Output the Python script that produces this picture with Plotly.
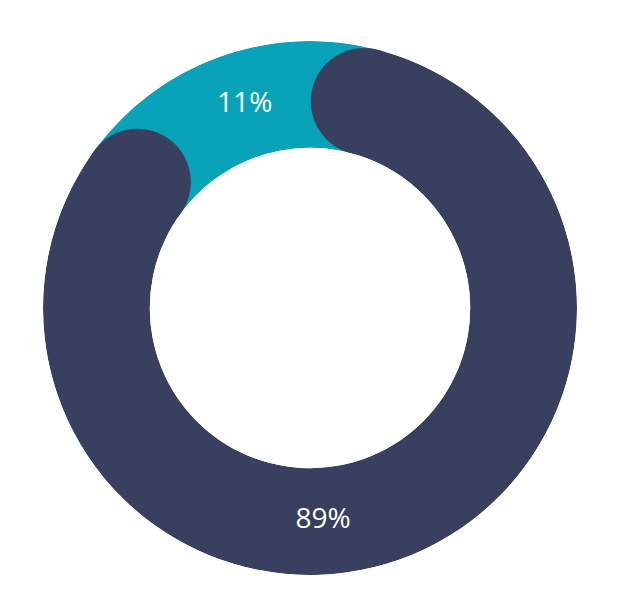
import math
import plotly.graph_objects as go

labels = ["Dark", "Teal"]
values = [89, 11]          # percent
label_text = ["89%", "11%"]
colors = ["#393F5F", "#08A3B9"]

HOLE = 0.6
R_PX = 267                 # outer radius in px
TEAL_MID = -19.6           # degrees clockwise from top
TEAL_LABEL_THETA = -17.8
DARK_LABEL_THETA = 176.5

# angular half-extent of the round caps at mid radius
half_thick = (1 - HOLE) / 2
mid_r = HOLE + half_thick
cap_deg = math.degrees(math.asin(half_thick / mid_r))

dark_deg = 360 * values[0] / 100
teal_deg = 360 * values[1] / 100

teal_width = teal_deg + 2 * cap_deg
dark_width = dark_deg - 2 * cap_deg
dark_mid = TEAL_MID + 180
dark_start = TEAL_MID + teal_width / 2
dark_end = TEAL_MID - teal_width / 2 + 360

fig = go.Figure()
fig.add_trace(go.Barpolar(r=[1], theta=[TEAL_MID], width=[teal_width], base=0,
                          marker=dict(color=colors[1], line=dict(width=0)),
                          hoverinfo="skip"))
fig.add_trace(go.Barpolar(r=[1], theta=[dark_mid], width=[dark_width], base=0,
                          marker=dict(color=colors[0], line=dict(width=0)),
                          hoverinfo="skip"))
fig.add_trace(go.Scatterpolar(r=[0.5, 0.5], theta=[dark_start, dark_end], mode="markers",
                              marker=dict(size=(1 - HOLE) * R_PX, color=colors[0],
                                          line=dict(width=0)),
                              hoverinfo="skip"))
fig.add_trace(go.Scatterpolar(r=[0.5, 0.5], theta=[TEAL_LABEL_THETA, DARK_LABEL_THETA],
                              mode="text",
                              text=[label_text[1], label_text[0]],
                              textfont=dict(color="white", size=28, family="Open Sans"),
                              hoverinfo="skip"))

fig.update_layout(
    width=630, height=612,
    margin=dict(l=35, r=61, t=33, b=45),
    showlegend=False,
    paper_bgcolor="white",
    polar=dict(
        hole=HOLE,
        bgcolor="white",
        domain=dict(x=[0, 1], y=[0, 1]),
        radialaxis=dict(visible=False, range=[0, 1]),
        angularaxis=dict(visible=False, direction="clockwise", rotation=90),
    ),
)
fig.write_html("out.html")
